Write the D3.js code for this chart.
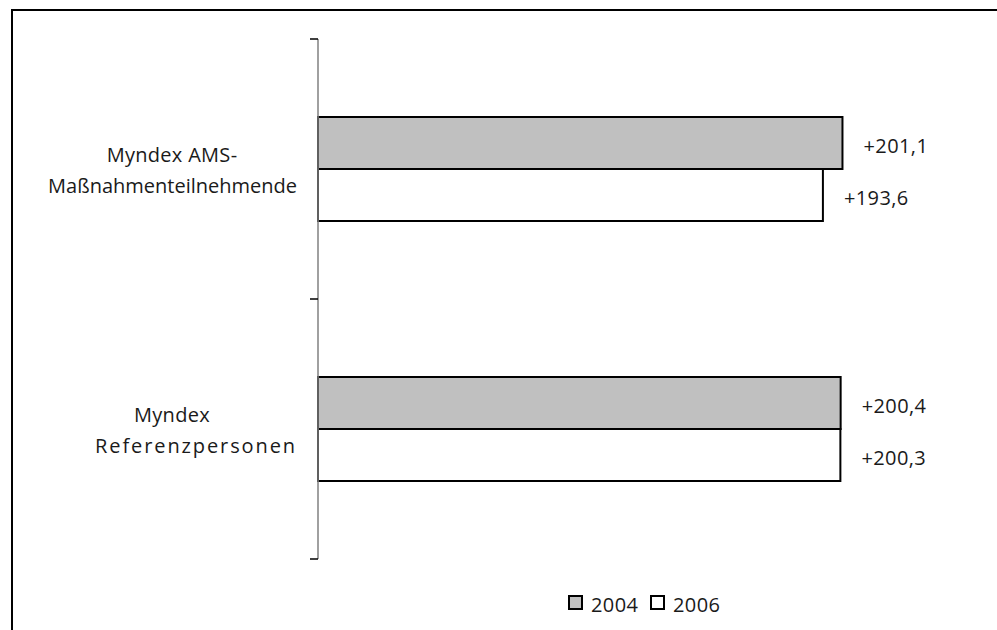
<!DOCTYPE html>
<html>
<head>
<meta charset="utf-8">
<script src="https://cdn.jsdelivr.net/npm/d3@7"></script>
<style>
  body { margin: 0; background: #fff; }
  text { font-family: "Open Sans", sans-serif; fill: #1a1a1a; }
</style>
</head>
<body>
<div id="chart"></div>
<script>
// data
const categories = ["Myndex AMS-Maßnahmenteilnehmende", "Myndex Referenzpersonen"];
const labelLines = [["Myndex AMS-", "Maßnahmenteilnehmende"], ["Myndex", "Referenzpersonen"]];
const series = ["2004", "2006"];
const values2004 = [201.1, 200.4];
const values2006 = [193.6, 200.3];
const seriesFill = ["#c0c0c0", "#ffffff"];

const width = 997;
const height = 630;

const svg = d3.select("#chart").append("svg")
    .attr("width", width)
    .attr("height", height);

// outer frame (runs off the right and bottom edge)
svg.append("rect")
    .attr("x", 12).attr("y", 10)
    .attr("width", 1000).attr("height", 640)
    .attr("fill", "none")
    .attr("stroke", "#000")
    .attr("stroke-width", 2);

const x = d3.scaleLinear().domain([0, 250]).range([318, 970]);
const y = d3.scaleBand().domain(categories).range([39, 559]);
const y1 = d3.scaleBand().domain(series).range([0, y.bandwidth()]).paddingOuter(1.5);

const de = d3.formatLocale({decimal: ",", thousands: ".", grouping: [3], currency: ["", " €"]});
const fmt = de.format("+.1f");

const rows = categories.map((c, i) => ({
    cat: c,
    vals: [values2004[i], values2006[i]]
}));

const groups = svg.selectAll(".cat")
    .data(rows)
    .enter().append("g")
    .attr("class", "cat")
    .attr("transform", d => "translate(0," + y(d.cat) + ")");

groups.selectAll("rect")
    .data(d => d.vals.map((v, j) => ({s: series[j], v: v, j: j})))
    .enter().append("rect")
    .attr("x", x(0))
    .attr("y", d => y1(d.s))
    .attr("width", d => x(d.v) - x(0))
    .attr("height", y1.bandwidth())
    .attr("fill", d => seriesFill[d.j])
    .attr("stroke", "#000")
    .attr("stroke-width", 2);

groups.selectAll(".val")
    .data(d => d.vals.map((v, j) => ({s: series[j], v: v})))
    .enter().append("text")
    .attr("class", "val")
    .attr("x", d => x(d.v) + 21)
    .attr("y", d => y1(d.s) + y1.bandwidth() / 2 + 9.5)
    .attr("font-size", 20)
    .attr("letter-spacing", 0.4)
    .text(d => fmt(d.v));

// category labels
const lineSpacing = [[0.3, 0], [0.3, 1.9]];
groups.each(function(d, i) {
    const g = d3.select(this);
    const c = y.bandwidth() / 2;
    g.append("text")
        .attr("x", 172).attr("y", c - 7)
        .attr("text-anchor", "middle")
        .attr("font-size", 20)
        .attr("letter-spacing", lineSpacing[i][0])
        .text(labelLines[i][0]);
    g.append("text")
        .attr("x", 297).attr("y", c + 24)
        .attr("text-anchor", "end")
        .attr("font-size", 20)
        .attr("letter-spacing", lineSpacing[i][1])
        .text(labelLines[i][1]);
});

// category axis with ticks at band edges
const axis = svg.append("g");
axis.append("line")
    .attr("x1", x(0)).attr("x2", x(0))
    .attr("y1", y.range()[0]).attr("y2", y.range()[1])
    .attr("stroke", "#808080").attr("stroke-width", 1.5);
const edges = categories.map(c => y(c)).concat([y.range()[1]]);
axis.selectAll(".tick")
    .data(edges)
    .enter().append("line")
    .attr("x1", x(0) - 8).attr("x2", x(0))
    .attr("y1", d => d).attr("y2", d => d)
    .attr("stroke", "#000").attr("stroke-width", 1.5);

// legend
const legend = svg.append("g").attr("transform", "translate(568,595)");
const item = legend.selectAll("g")
    .data(series)
    .enter().append("g")
    .attr("transform", (d, i) => "translate(" + i * 82 + ",0)");
item.append("rect")
    .attr("x", 1).attr("y", 1)
    .attr("width", 13).attr("height", 13)
    .attr("fill", (d, i) => seriesFill[i])
    .attr("stroke", "#000").attr("stroke-width", 2);
item.append("text")
    .attr("x", 23).attr("y", 17)
    .attr("font-size", 20)
    .attr("letter-spacing", 0.4)
    .text(d => d);
</script>
</body>
</html>
